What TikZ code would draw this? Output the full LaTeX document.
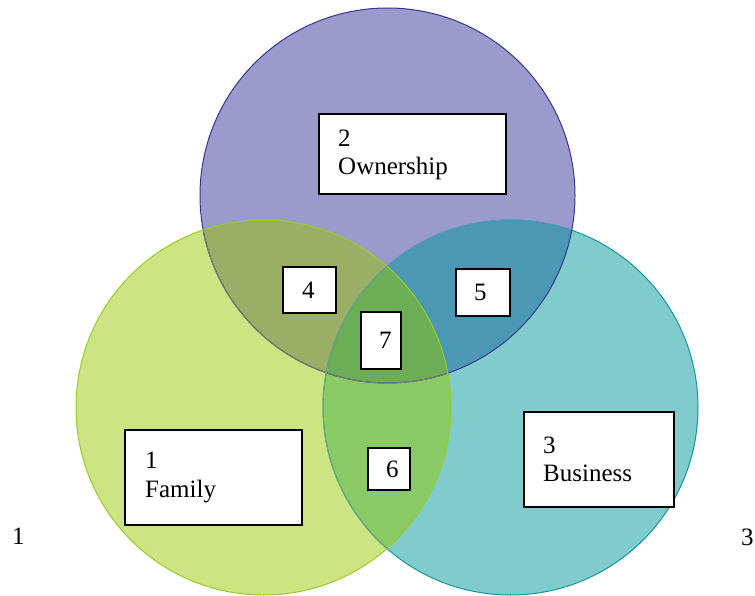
\documentclass[tikz,border=0pt]{standalone}
\usepackage{fontspec}
\setmainfont{Liberation Serif}
\definecolor{cTop}{RGB}{154,154,204}
\definecolor{cLeft}{RGB}{205,228,130}
\definecolor{cRight}{RGB}{128,204,204}
\definecolor{cTL}{RGB}{154,174,102}
\definecolor{cTR}{RGB}{74,152,180}
\definecolor{cLR}{RGB}{137,202,100}
\definecolor{cAll}{RGB}{107,174,85}
\definecolor{oTop}{RGB}{55,55,150}
\definecolor{oLeft}{RGB}{153,204,40}
\definecolor{oRight}{RGB}{20,150,160}
\begin{document}
\begin{tikzpicture}[x=1pt,y=-1pt,
  boxshape/.style={draw=black,line width=1.8pt,fill=white,anchor=north west,inner sep=0pt},
  lbl/.style={anchor=west,inner sep=0pt,font=\fontsize{25}{28.5}\selectfont,align=left},
  ring/.style={line width=1pt}]
\useasboundingbox (0,0) rectangle (755,596);
\coordinate (cT) at (387.5,195.5);
\coordinate (cL) at (263.5,407.5);
\coordinate (cR) at (510.5,407.5);
% base fills
\fill[cRight] (cR) circle[radius=187.5pt];
\fill[cTop] (cT) circle[radius=187.5pt];
\fill[cLeft] (cL) circle[radius=187.5pt];
% overlaps
\begin{scope}
  \clip (cT) circle[radius=187.5pt];
  \fill[cTL] (cL) circle[radius=187.5pt];
  \fill[cTR] (cR) circle[radius=187.5pt];
\end{scope}
\begin{scope}
  \clip (cL) circle[radius=187.5pt];
  \fill[cLR] (cR) circle[radius=187.5pt];
\end{scope}
\begin{scope}
  \clip (cT) circle[radius=187.5pt];
  \clip (cL) circle[radius=187.5pt];
  \fill[cAll] (cR) circle[radius=187.5pt];
\end{scope}
% outlines
\draw[ring,oRight] (cR) circle[radius=187.5pt];
\begin{scope}
  \clip (cT) circle[radius=187.5pt];
  \draw[ring,oRight!45!cTop] (cR) circle[radius=187.5pt];
\end{scope}
\draw[ring,oTop] (cT) circle[radius=187.5pt];
\begin{scope}
  \clip (cL) circle[radius=187.5pt];
  \draw[ring,oTop!40!cLeft!80!black] (cT) circle[radius=187.5pt];
  \draw[ring,oRight!40!cLeft!85!black] (cR) circle[radius=187.5pt];
\end{scope}
\draw[ring,oLeft] (cL) circle[radius=187.5pt];
% boxes
\node[boxshape,minimum width=187pt,minimum height=80pt] (b2) at (318,113) {};
\node[lbl] (t2) at ([xshift=20pt,yshift=-1pt]b2.west) {2\\Ownership};
\node[boxshape,minimum width=177pt,minimum height=95pt] (b1) at (124,429) {};
\node[lbl] (t1) at ([xshift=21pt]b1.west) {1\\Family};
\node[boxshape,minimum width=150pt,minimum height=95pt] (b3) at (523,411) {};
\node[lbl] (t3) at ([xshift=20pt]b3.west) {3\\Business};
\node[boxshape,minimum width=53pt,minimum height=46pt] (b4) at (282,266) {};
\node[lbl] (t4) at ([xshift=20pt]b4.west) {4};
\node[boxshape,minimum width=54pt,minimum height=47pt] (b5) at (455,268) {};
\node[lbl] (t5) at ([xshift=19pt]b5.west) {5};
\node[boxshape,minimum width=40pt,minimum height=57pt] (b7) at (360,311) {};
\node[lbl] (t7) at ([xshift=19pt]b7.west) {7};
\node[boxshape,minimum width=42pt,minimum height=42pt] (b6) at (367,447) {};
\node[lbl] (t6) at ([xshift=19pt]b6.west) {6};
% outer labels
\node[lbl] (o1) at (12,536) {1};
\node[lbl] (o3) at (741,537) {3};
\end{tikzpicture}
\end{document}
